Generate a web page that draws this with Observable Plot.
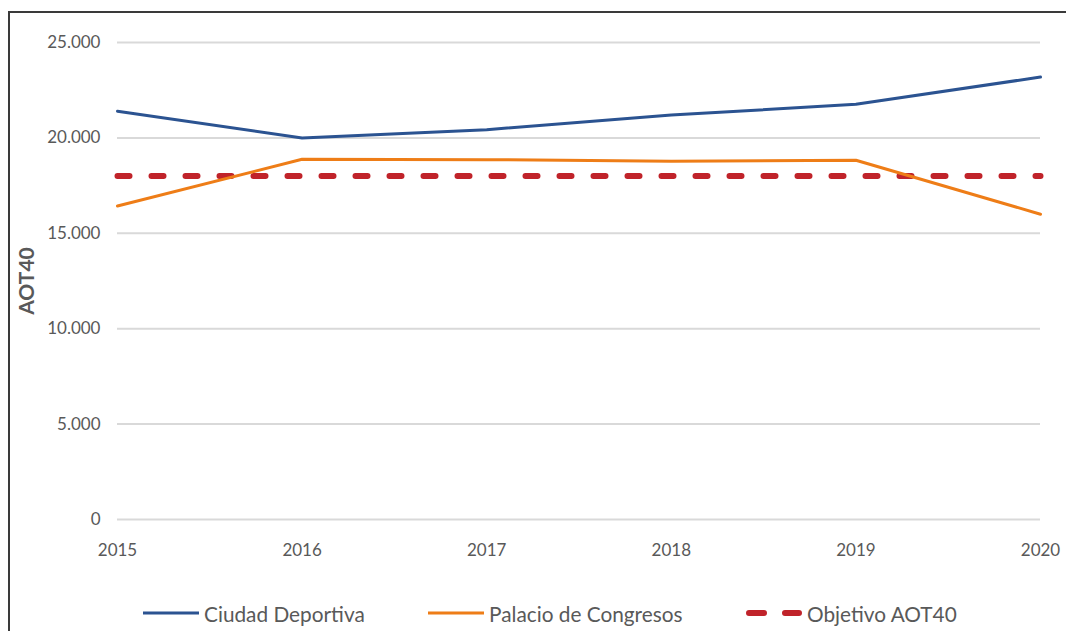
<!DOCTYPE html>
<html>
<head>
<meta charset="utf-8">
<script src="https://cdn.jsdelivr.net/npm/d3@7"></script>
<script src="https://cdn.jsdelivr.net/npm/@observablehq/plot@0.6"></script>
<style>
  body { margin: 0; background: #fff; font-family: Lato, "Open Sans", sans-serif; }
  #wrap { position: relative; width: 1066px; height: 631px; overflow: hidden; }
  #border { position: absolute; left: 8px; top: 11px; width: 1100px; height: 700px;
            border-left: 2px solid #3a3a3a; border-top: 2px solid #3a3a3a; box-sizing: border-box; }
  #chart { position: absolute; left: 0; top: 0; }
  .leg { position: absolute; top: 600px; height: 26px; display: flex; align-items: center;
         font-size: 20.8px; color: #595959; white-space: nowrap; }
  .leg svg { margin-right: 5px; }
</style>
</head>
<body>
<div id="wrap">
  <div id="border"></div>
  <div id="chart"></div>
  <div id="legend"></div>
</div>
<script>
const years = [2015, 2016, 2017, 2018, 2019, 2020];
const ciudadDeportiva = [21400, 20000, 20430, 21200, 21760, 23190];
const palacioCongresos = [16430, 18880, 18860, 18770, 18830, 16000];
const objetivo = [18000, 18000, 18000, 18000, 18000, 18000];
const yTicks = [0, 5000, 10000, 15000, 20000, 25000];
const seriesNames = ["Ciudad Deportiva", "Palacio de Congresos", "Objetivo AOT40"];
const colors = ["#2b5391", "#ee7d17", "#c0232a"];
const yLabel = "AOT40";

const rows = (vals, name) => years.map((y, i) => ({year: y, value: vals[i], series: name}));
const cd = rows(ciudadDeportiva, seriesNames[0]);
const pc = rows(palacioCongresos, seriesNames[1]);
const ob = rows(objetivo, seriesNames[2]);

const fmt = v => d3.format(",")(v).replace(/,/g, ".");

const chart = Plot.plot({
  width: 1066,
  height: 580,
  marginLeft: 117,
  marginRight: 26,
  marginTop: 42,
  marginBottom: 61,
  style: {fontFamily: "Lato, 'Open Sans', sans-serif", fontSize: "17px", color: "#595959", background: "transparent"},
  x: {domain: [2015, 2020]},
  y: {domain: [0, 25000]},
  marks: [
    Plot.ruleY(yTicks, {stroke: "#d9d9d9", strokeWidth: 2}),
    Plot.axisY({ticks: yTicks, tickSize: 0, tickPadding: 17, tickFormat: fmt, label: null, fill: "#595959"}),
    Plot.axisX({ticks: years, tickSize: 0, tickPadding: 24, tickFormat: d => String(d), label: null, fill: "#595959"}),
    Plot.text([yLabel], {frameAnchor: "left", textAnchor: "middle", rotate: -90, dx: -90, text: d => d, fontWeight: "bold", fontSize: 21, fill: "#595959"}),
    Plot.line(ob, {x: "year", y: "value", stroke: colors[2], strokeWidth: 6, strokeDasharray: "12,22", strokeLinecap: "round"}),
    Plot.line(pc, {x: "year", y: "value", stroke: colors[1], strokeWidth: 3}),
    Plot.line(cd, {x: "year", y: "value", stroke: colors[0], strokeWidth: 3})
  ]
});
document.getElementById("chart").appendChild(chart);

// legend
const legendPos = [143, 428, 746];
const sampleW = 56;
const legend = document.getElementById("legend");
seriesNames.forEach((name, i) => {
  const item = document.createElement("div");
  item.className = "leg";
  item.style.left = legendPos[i] + "px";
  const w = sampleW;
  const dashed = i === 2;
  item.innerHTML = `<svg width="${w}" height="10"><line x1="${dashed ? 3 : 0}" x2="${dashed ? w - 3 : w}" y1="5" y2="5" stroke="${colors[i]}" stroke-width="${dashed ? 6 : 3}" ${dashed ? 'stroke-dasharray="15,21" stroke-linecap="round"' : ''}/></svg><span>${name}</span>`;
  legend.appendChild(item);
});
</script>
</body>
</html>
